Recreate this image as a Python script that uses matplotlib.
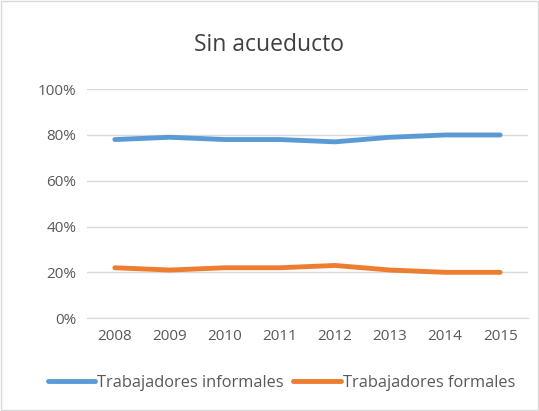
import numpy as np
import matplotlib.pyplot as plt
from matplotlib.ticker import PercentFormatter

# datos
anios = ['2008', '2009', '2010', '2011', '2012', '2013', '2014', '2015']
informales = [78, 79, 78, 78, 77, 79, 80, 80]
formales = [22, 21, 22, 22, 23, 21, 20, 20]

plt.rcParams['font.family'] = ['Open Sans', 'DejaVu Sans']

fig = plt.figure(figsize=(5.39, 4.11), dpi=100)
ax = fig.add_axes([0.162, 0.226, 0.817, 0.557])

x = np.arange(len(anios))
ax.plot(x, informales, color='#5b9bd5', lw=3.5, solid_capstyle='round',
        solid_joinstyle='round', label='Trabajadores informales')
ax.plot(x, formales, color='#ed7d31', lw=3.5, solid_capstyle='round',
        solid_joinstyle='round', label='Trabajadores formales')

ax.set_xlim(-0.5, len(anios) - 0.5)
ax.set_ylim(0, 100)
ax.set_yticks(np.arange(0, 101, 20))
ax.yaxis.set_major_formatter(PercentFormatter(decimals=0))
ax.set_xticks(x)
ax.set_xticklabels(anios)
ax.grid(axis='y', color='#d9d9d9', lw=1)
ax.set_axisbelow(True)
for s in ['top', 'right', 'left']:
    ax.spines[s].set_visible(False)
ax.spines['bottom'].set_color('#d9d9d9')
ax.tick_params(length=0, labelsize=11, colors='#595959', pad=8)

fig.text(0.5, 0.89, 'Sin acueducto', ha='center', va='center',
         fontsize=16.5, color='#404040')

fig.legend(loc='center', bbox_to_anchor=(0.522, 0.068), ncol=2, frameon=False,
           fontsize=11.8, handlelength=2.9, handletextpad=0.1,
           columnspacing=0.6, labelcolor='#595959')

# borde del grafico
fig.patches.append(plt.Rectangle((0.002, 0.002), 0.996, 0.996,
                                 transform=fig.transFigure, fill=False,
                                 edgecolor='#d9d9d9', lw=1))

fig.savefig('out.png', dpi=100)
